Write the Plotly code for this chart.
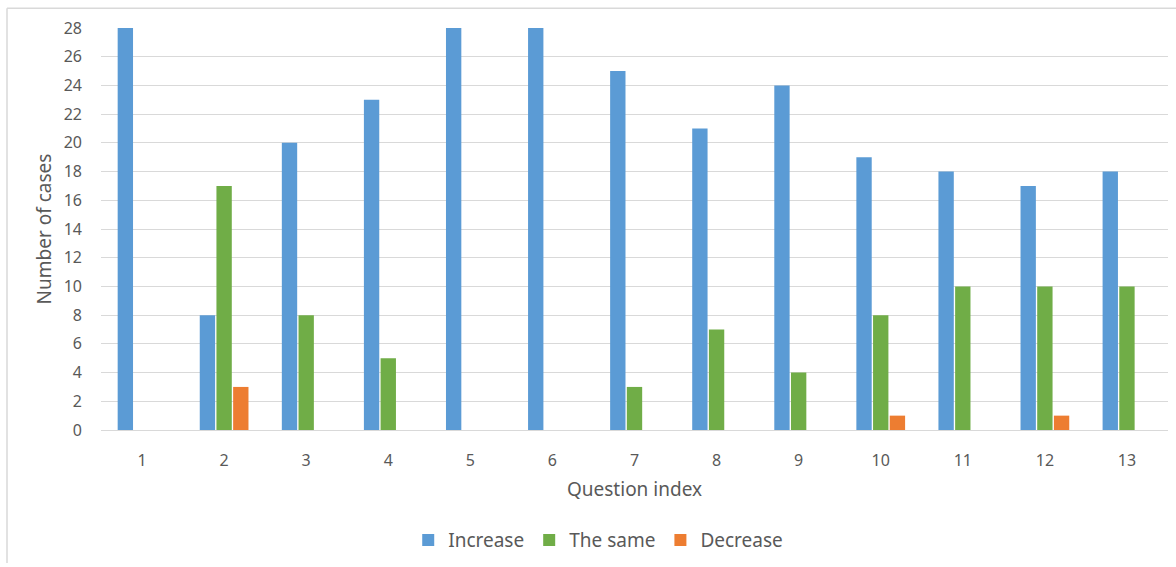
import plotly.graph_objects as go

questions = [str(i) for i in range(1, 14)]
increase = [28, 8, 20, 23, 28, 28, 25, 21, 24, 19, 18, 17, 18]
same = [0, 17, 8, 5, 0, 0, 3, 7, 4, 8, 10, 10, 10]
decrease = [0, 3, 0, 0, 0, 0, 0, 0, 0, 1, 0, 1, 0]
y_ticks = list(range(0, 29, 2))

FONT = "Noto Sans"
TEXT = "#595959"

fig = go.Figure()
for name, vals, color in [
    ("Increase", increase, "#5B9BD5"),
    ("The same", same, "#70AD47"),
    ("Decrease", decrease, "#ED7D31"),
]:
    fig.add_trace(go.Bar(x=questions, y=vals, name=name, marker_color=color,
                         marker_line_width=0))

W, H = 1176, 567
ml, mr, mt, mb = 101, 8, 28, 134
pw, ph = W - ml - mr, H - mt - mb

def px_to_paper_x(px):
    return (px - ml) / pw

def px_to_paper_y(py):
    return (H - mb - py) / ph

fig.update_layout(
    width=W, height=H,
    margin=dict(l=ml, r=mr, t=mt, b=mb),
    paper_bgcolor="white", plot_bgcolor="white",
    barmode="group", bargap=0.39, bargroupgap=0.08,
    font=dict(family=FONT, color=TEXT, size=16),
    xaxis=dict(
        title=dict(text="Question index", font=dict(size=19, color=TEXT), standoff=12),
        showgrid=False, showline=True, linecolor="#D9D9D9", linewidth=1,
        ticks="", tickfont=dict(size=16, color=TEXT), ticklabelstandoff=16,
    ),
    yaxis=dict(
        title=dict(text="Number of cases", font=dict(size=19, color=TEXT), standoff=7),
        range=[0, 28], tickvals=y_ticks, showgrid=True, gridcolor="#D9D9D9",
        gridwidth=1, zeroline=False, ticks="", tickfont=dict(size=16, color=TEXT),
        ticklabelstandoff=18,
    ),
    legend=dict(orientation="h", x=0.466, xanchor="center", y=px_to_paper_y(544),
                yanchor="middle", font=dict(size=19, color=TEXT),
                itemwidth=30, traceorder="normal"),
    shapes=[
        dict(type="line", xref="paper", yref="paper",
             x0=px_to_paper_x(7), x1=px_to_paper_x(1176), y0=px_to_paper_y(8), y1=px_to_paper_y(8),
             line=dict(color="#D9D9D9", width=1.5)),
        dict(type="line", xref="paper", yref="paper",
             x0=px_to_paper_x(7), x1=px_to_paper_x(7), y0=px_to_paper_y(8), y1=px_to_paper_y(567),
             line=dict(color="#D9D9D9", width=1.5)),
    ],
)

fig.write_html("out.html")
